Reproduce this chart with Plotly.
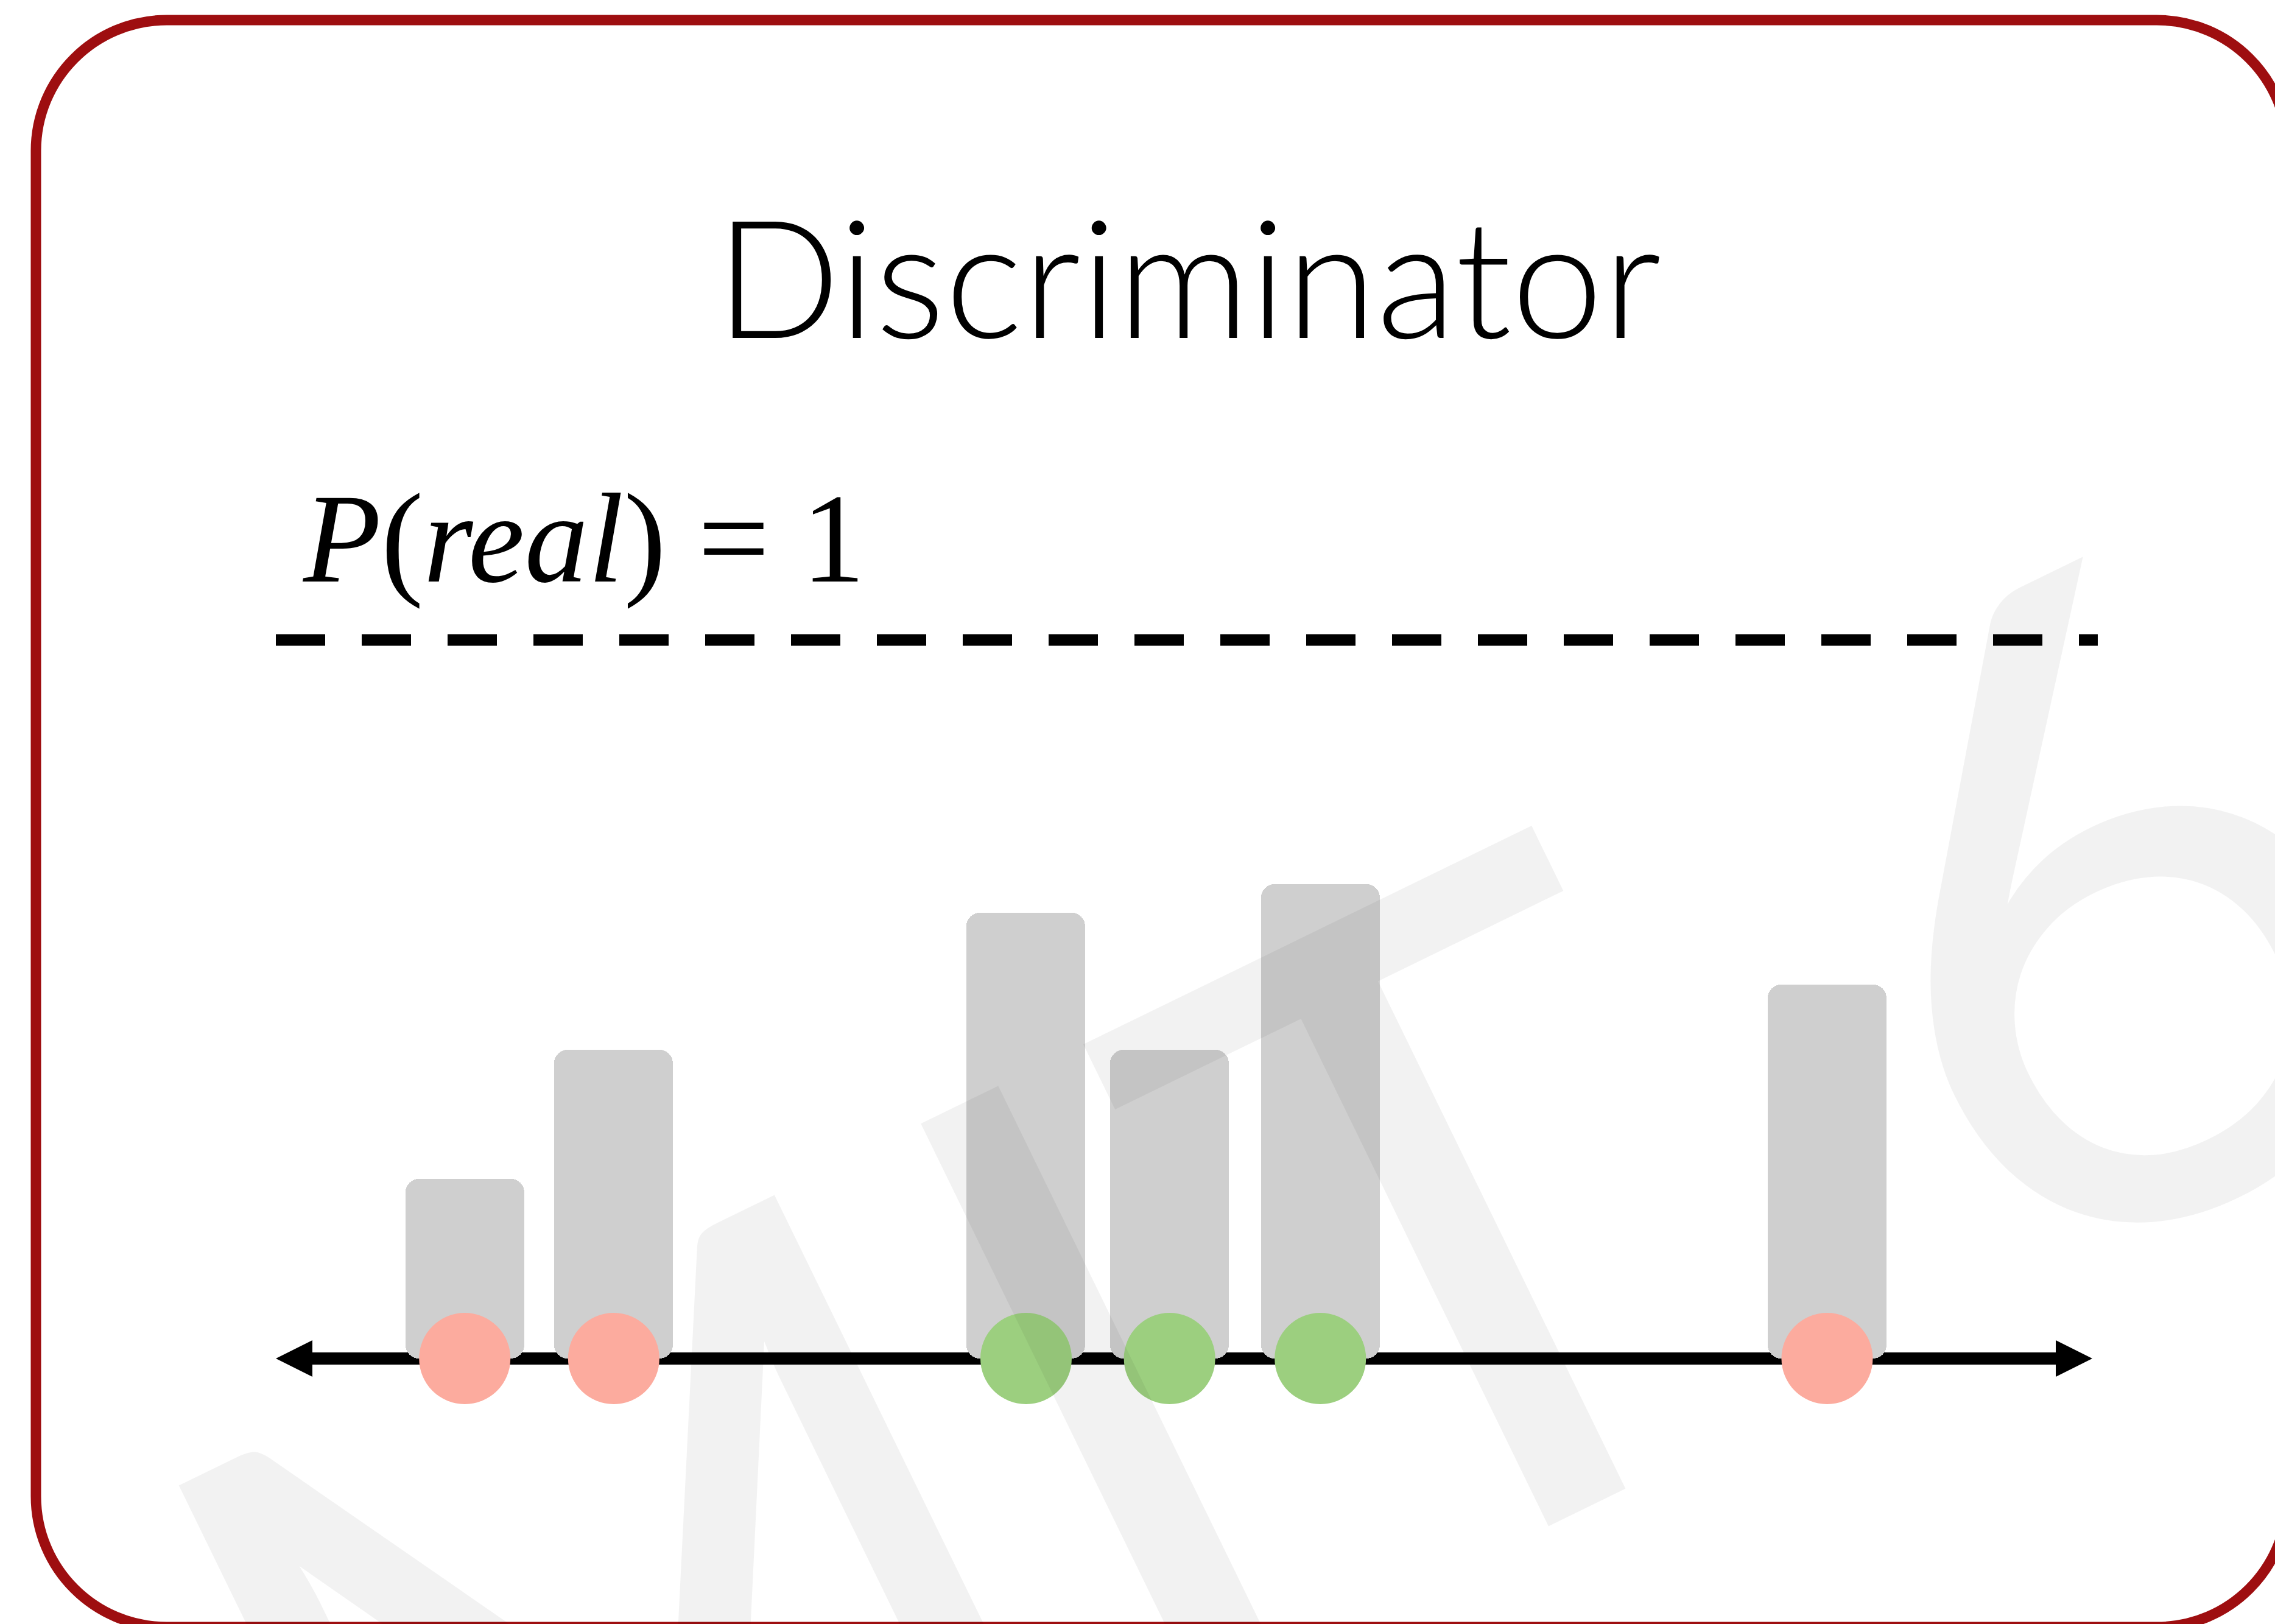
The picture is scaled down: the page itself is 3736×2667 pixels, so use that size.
import plotly.graph_objects as go

# ---------------- data ----------------
W, H = 3736, 2667

sample_x = [1.04, 1.86, 4.13, 4.92, 5.75, 8.54]        # positions on the number line
p_real = [0.25, 0.43, 0.62, 0.43, 0.66, 0.52]          # discriminator output (bar heights)
sample_kind = ["fake", "fake", "real", "real", "real", "fake"]

AXIS_MIN, AXIS_MAX = 0.0, 10.0                         # extent of the number line
THRESHOLD = 1.0                                        # P(real) = 1 level

title_text = "Discriminator"
threshold_label = "<i>P</i>(<i>real</i>) = 1"
watermark_text = "MIT 6.S191"

kind_colors = {"fake": "#fcab9e", "real": "#9ccf7f"}

# ---------------- scales (layout) ----------------
PX_PER_X = 298.3
PX_PER_Y = 1180.0
x_left_px, y_zero_px = 453.0, 2231.0
x_range = [AXIS_MIN - x_left_px / PX_PER_X, AXIS_MIN + (W - x_left_px) / PX_PER_X]
y_range = [-(H - y_zero_px) / PX_PER_Y, y_zero_px / PX_PER_Y]

bar_width = 195 / PX_PER_X
head_len = 60 / PX_PER_X
head_half = 30 / PX_PER_Y

fig = go.Figure()

fig.add_trace(go.Bar(
    x=sample_x, y=p_real, base=0, width=bar_width,
    marker=dict(color="#cfcfcf", line=dict(width=0), cornerradius=22),
    hoverinfo="skip", showlegend=False,
))

fig.add_trace(go.Scatter(
    x=sample_x, y=[0] * len(sample_x), mode="markers",
    marker=dict(size=150, color=[kind_colors[k] for k in sample_kind], line=dict(width=0)),
    cliponaxis=False, hoverinfo="skip", showlegend=False,
))

shapes = []
# number line with arrows
shapes.append(dict(type="line", xref="x", yref="y", x0=AXIS_MIN + head_len * 0.8, x1=AXIS_MAX - head_len * 0.8,
                   y0=0, y1=0, line=dict(color="black", width=20), layer="below"))
shapes.append(dict(type="path", xref="x", yref="y", layer="below",
                   path=f"M {AXIS_MIN},0 L {AXIS_MIN + head_len},{head_half} L {AXIS_MIN + head_len},{-head_half} Z",
                   fillcolor="black", line=dict(width=0)))
shapes.append(dict(type="path", xref="x", yref="y", layer="below",
                   path=f"M {AXIS_MAX},0 L {AXIS_MAX - head_len},{head_half} L {AXIS_MAX - head_len},{-head_half} Z",
                   fillcolor="black", line=dict(width=0)))
# threshold dashed line
shapes.append(dict(type="line", xref="x", yref="y", x0=AXIS_MIN, x1=AXIS_MAX + 0.03,
                   y0=THRESHOLD, y1=THRESHOLD, line=dict(color="black", width=19, dash="81px,60px"),
                   layer="below"))

# rounded frame (paper coordinates)
def P(x, y):
    return f"{x / W:.5f},{1 - y / H:.5f}"

L_, T_, R_, B_ = 59, 33, 3757, 2672
r = 215
k = 0.5523 * r
frame = (f"M {P(L_, T_ + r)} C {P(L_, T_ + r - k)} {P(L_ + r - k, T_)} {P(L_ + r, T_)} "
         f"L {P(R_ - r, T_)} C {P(R_ - r + k, T_)} {P(R_, T_ + r - k)} {P(R_, T_ + r)} "
         f"L {P(R_, B_ - r)} C {P(R_, B_ - r + k)} {P(R_ - r + k, B_)} {P(R_ - r, B_)} "
         f"L {P(L_ + r, B_)} C {P(L_ + r - k, B_)} {P(L_, B_ - r + k)} {P(L_, B_ - r)} Z")
shapes.append(dict(type="path", xref="paper", yref="paper", path=frame,
                   line=dict(color="#9e0e10", width=17), fillcolor="rgba(0,0,0,0)"))

annotations = [
    dict(text=title_text, xref="paper", yref="paper", x=1951 / W, y=1 - 451 / H,
         xanchor="center", yanchor="middle", showarrow=False,
         font=dict(family="Lato", size=270, color="black", weight=300)),
    dict(text=threshold_label, xref="paper", yref="paper", x=494 / W, y=1 - 884 / H,
         xanchor="left", yanchor="middle", showarrow=False,
         font=dict(family="Liberation Serif", size=209, color="black")),
    dict(text=watermark_text, xref="paper", yref="paper", x=3746 / W, y=1 - 1291 / H,
         xanchor="center", yanchor="middle", showarrow=False, textangle=-26,
         font=dict(family="Lato", size=1460, color="rgba(0,0,0,0.05)")),
]

fig.update_layout(
    width=W, height=H,
    margin=dict(l=0, r=0, t=0, b=0),
    paper_bgcolor="white", plot_bgcolor="white",
    xaxis=dict(range=x_range, visible=False, fixedrange=True),
    yaxis=dict(range=y_range, visible=False, fixedrange=True),
    shapes=shapes, annotations=annotations,
    bargap=0, showlegend=False,
)

fig.write_html(
    "out.html",
    config=dict(displayModeBar=False),
    post_script="document.body.style.margin='0px';document.body.style.overflow='hidden';",
)
